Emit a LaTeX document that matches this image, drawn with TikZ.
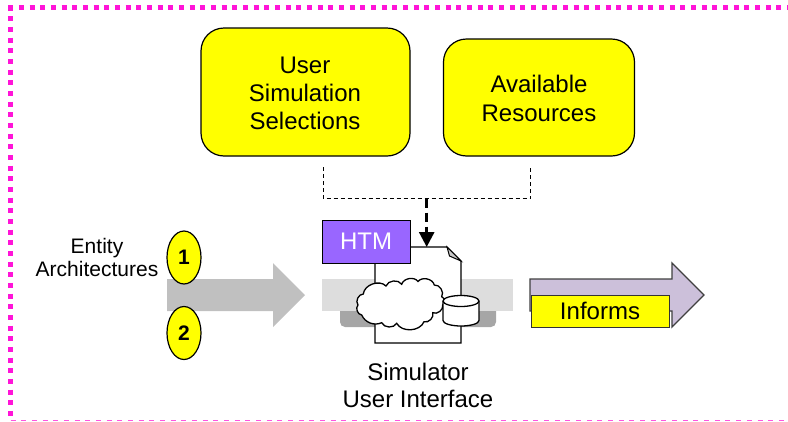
\documentclass[tikz,border=0pt]{standalone}
\usepackage{fontspec}
\setmainfont{Liberation Sans}
\usetikzlibrary{arrows.meta,shapes.geometric}
\definecolor{ylw}{HTML}{FFFF00}
\definecolor{pnk}{HTML}{FF14D8}
\definecolor{pnkb}{HTML}{FF55E0}
\definecolor{purp}{HTML}{9966FF}
\definecolor{lilac}{HTML}{CCC0DA}
\definecolor{arrowgray}{HTML}{C0C0C0}
\definecolor{bandl}{HTML}{DDDDDD}
\definecolor{bandd}{HTML}{A6A6A6}
\definecolor{foldgray}{HTML}{C8C8C8}
\tikzset{
 x=1pt,y=-1pt,
 txt/.style={font=\fontsize{24}{28}\selectfont,text=black,align=center,inner sep=0pt},
 ybox/.style={draw=black,line width=1.2pt,fill=ylw,rounded corners=23pt},
 bubble/.style={draw=black,line width=1.2pt,fill=ylw,ellipse,minimum width=34pt,minimum height=53pt,inner sep=0pt,font=\fontsize{21}{24}\selectfont\bfseries},
 thinl/.style={draw=black,line width=1.3pt},
 con/.style={draw=black,line width=1pt,dash pattern=on 4pt off 3pt},
}
\begin{document}
\begin{tikzpicture}
\useasboundingbox (0,0) rectangle (788,421);
% frame
\draw[pnk,line width=5pt,dash pattern=on 5pt off 5.67pt] (8.2,7) -- (788,7);
\draw[pnk,line width=5pt,dash pattern=on 5pt off 5.67pt] (10.6,5.5) -- (10.6,416);
\draw[pnkb,line width=1.2pt,dash pattern=on 5pt off 5.67pt] (10.6,420.4) -- (788,420.4);
% yellow boxes
\path[ybox] (201,28) rectangle (410,156);
\node[txt] (usr) at (305,93) {User\\Simulation\\Selections};
\path[ybox] (443.5,39) rectangle (634.5,156);
\node[txt,font=\fontsize{24}{29}\selectfont] (res) at (539,98.5) {Available\\Resources};
% bands
\fill[bandd,rounded corners=5pt] (340,300) -- (340,327) -- (496,327) -- (496,300) -- cycle;
\fill[bandl] (322,279) rectangle (513,311);
% gray arrow
\fill[arrowgray] (167,279) -- (273,279) -- (273,263) -- (305,295) -- (273,327) -- (273,311) -- (167,311) -- cycle;
\node[bubble] (one) at (184,257.5) {1};
\node[bubble] (two) at (184,333) {2};
\node[txt,font=\fontsize{21}{23}\selectfont] (ent) at (97,257) {Entity\\Architectures};
% document
\draw[thinl,fill=white] (375,247) -- (447,247) -- (461,261) -- (461,343) -- (375,343) -- cycle;
\draw[line width=1pt,fill=foldgray] (447,247) -- (461,261) -- (449.5,256) -- cycle;
% cloud
\draw[thinl,fill=white] (363.3,294) to[bend left=65] (386,286) to[bend left=65] (401.7,284.3) to[bend left=65] (418,281.5) to[bend left=65] (434.3,285) to[bend left=65] (441.7,296.7) to[bend left=65] (442.7,305) to[bend left=65] (432.7,312.7) to[bend left=65] (424,321.7) to[bend left=65] (396.7,323.3) to[bend left=65] (381.7,322.7) to[bend left=45] (361.7,315) to[bend left=65] (358,305) to[bend left=65] (363.3,294) -- cycle;
% cylinder
\draw[thinl,fill=white] (443,301) -- (443,320.5) .. controls (443,323.5) and (451,326) .. (461,326) .. controls (471,326) and (479,323.5) .. (479,320.5) -- (479,301) .. controls (479,298) and (471,295.5) .. (461,295.5) .. controls (451,295.5) and (443,298) .. (443,301) -- cycle;
\draw[thinl] (443,301) .. controls (443,304) and (451,306.5) .. (461,306.5) .. controls (471,306.5) and (479,304) .. (479,301);
\node[draw=black,line width=1pt,fill=purp,minimum width=88pt,minimum height=43pt,inner sep=0pt,text=white,font=\fontsize{24}{28}\selectfont] (htm) at (366,241.5) {HTM};
% connectors
\coordinate (jn) at (426.7,198.5);
\coordinate (la) at (323,167);
\coordinate (lb) at (530.5,167);
\draw[con] (la) |- (jn) -| (lb);
\coordinate (docin) at (426.7,247);
\draw[draw=black,line width=2.7pt,dash pattern=on 9pt off 5pt,-{Triangle[length=15pt,width=15pt]}] (jn) -- (docin);
\node[txt,font=\fontsize{24}{27}\selectfont] (sim) at (418,385) {Simulator\\User Interface};
% informs
\draw[draw=black!75,line width=1.3pt,fill=lilac] (530,279) -- (672,279) -- (672,263) -- (704,295) -- (672,327) -- (672,311) -- (530,311) -- cycle;
\node[draw=black!80,line width=1pt,fill=ylw,minimum width=138pt,minimum height=32pt,inner sep=0pt,txt] (inf) at (600,311) {Informs};
\end{tikzpicture}
\end{document}
